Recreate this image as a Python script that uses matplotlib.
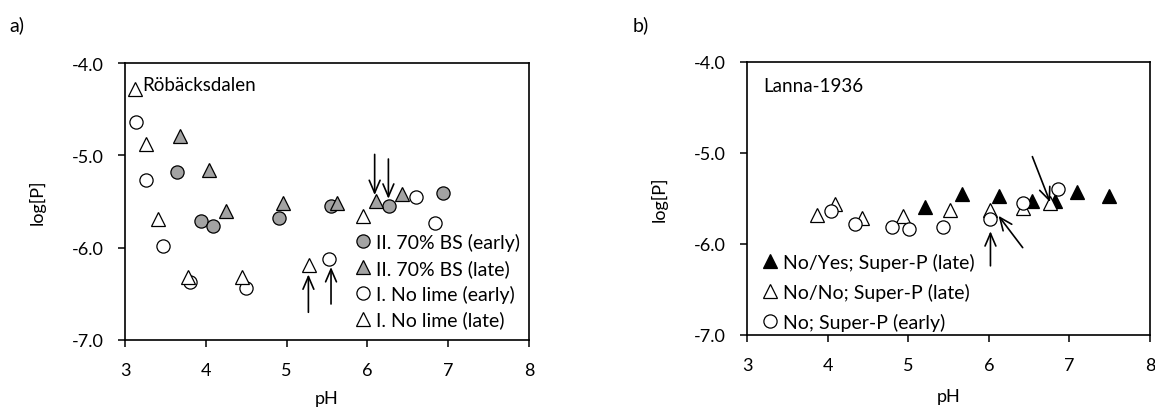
import matplotlib
matplotlib.use("Agg")
import matplotlib.pyplot as plt

plt.rcParams['font.family'] = ['Lato', 'DejaVu Sans']
plt.rcParams['font.size'] = 13

# ---------------- Panel a data (Röbäcksdalen) ----------------
a_bs_early_ph = [3.64, 3.94, 4.09, 4.91, 5.55, 6.27, 6.93]
a_bs_early_lp = [-5.18, -5.71, -5.77, -5.68, -5.55, -5.55, -5.41]
a_bs_late_ph = [3.68, 4.04, 4.25, 4.96, 5.62, 6.11, 6.43]
a_bs_late_lp = [-4.79, -5.16, -5.60, -5.52, -5.52, -5.49, -5.42]
a_nl_early_ph = [3.14, 3.26, 3.47, 3.80, 4.50, 5.52, 6.60, 6.84]
a_nl_early_lp = [-4.64, -5.27, -5.98, -6.37, -6.44, -6.12, -5.45, -5.73]
a_nl_late_ph = [3.12, 3.26, 3.41, 3.78, 4.45, 5.28, 5.94]
a_nl_late_lp = [-4.28, -4.88, -5.69, -6.32, -6.32, -6.19, -5.66]
# arrows: (tail x, tail y, tip x, tip y)
a_arrows = [(6.09, -4.99, 6.09, -5.43), (6.26, -5.04, 6.26, -5.47),
            (5.27, -6.70, 5.27, -6.29), (5.55, -6.61, 5.55, -6.21)]

# ---------------- Panel b data (Lanna-1936) ----------------
b_ny_late_ph = [5.21, 5.67, 6.13, 6.53, 6.82, 7.10, 7.49]
b_ny_late_lp = [-5.59, -5.45, -5.47, -5.53, -5.53, -5.43, -5.47]
b_nn_late_ph = [3.87, 4.09, 4.43, 4.93, 5.52, 6.02, 6.43, 6.76]
b_nn_late_lp = [-5.68, -5.56, -5.71, -5.69, -5.63, -5.63, -5.61, -5.55]
b_n_early_ph = [4.04, 4.34, 4.80, 5.01, 5.43, 6.01, 6.43, 6.86]
b_n_early_lp = [-5.64, -5.78, -5.81, -5.84, -5.81, -5.73, -5.55, -5.40]
b_arrows = [(6.02, -6.24, 6.02, -5.86), (6.42, -6.04, 6.12, -5.69),
            (6.54, -5.04, 6.76, -5.54)]

xticks = [3, 4, 5, 6, 7, 8]
yticks = [-7.0, -6.0, -5.0, -4.0]
ytick_labels = ['-7.0', '-6.0', '-5.0', '-4.0']

GRAY = '#a3a3a3'
MS = 9.5
MEW = 0.9
LEG_FS = 14

fig = plt.figure(figsize=(11.55, 4.10), dpi=100)
ax_a = fig.add_axes([0.1082, 0.1683, 0.3498, 0.6756])
ax_b = fig.add_axes([0.6468, 0.1805, 0.3489, 0.6659])


def style(ax, xpad):
    ax.set_xlim(3, 8)
    ax.set_ylim(-7.0, -4.0)
    ax.set_xticks(xticks)
    ax.set_yticks(yticks)
    ax.set_yticklabels(ytick_labels)
    ax.tick_params(direction='out', length=5, width=1.1, labelsize=13)
    ax.tick_params(axis='x', pad=11)
    ax.tick_params(axis='y', pad=10)
    for s in ax.spines.values():
        s.set_linewidth(1.2)
        s.set_color('black')
    ax.set_xlabel('pH', fontsize=13, labelpad=xpad)
    ax.set_ylabel('log[P]', fontsize=13, labelpad=19)


def arrows(ax, lst):
    for tx, ty, hx, hy in lst:
        ax.annotate('', xy=(hx, hy), xytext=(tx, ty),
                    arrowprops=dict(arrowstyle='->,head_length=0.7,head_width=0.3',
                                    lw=1.2, color='black', shrinkA=0, shrinkB=0))


# Panel a
ax_a.plot(a_bs_early_ph, a_bs_early_lp, 'o', ms=MS, mfc=GRAY, mec='black', mew=MEW,
          label='II. 70% BS (early)')
ax_a.plot(a_bs_late_ph, a_bs_late_lp, '^', ms=MS, mfc=GRAY, mec='black', mew=MEW,
          label='II. 70% BS (late)')
ax_a.plot(a_nl_early_ph, a_nl_early_lp, 'o', ms=MS, mfc='white', mec='black', mew=MEW,
          label='I. No lime (early)')
ax_a.plot(a_nl_late_ph, a_nl_late_lp, '^', ms=MS, mfc='white', mec='black', mew=MEW,
          label='I. No lime (late)')
arrows(ax_a, a_arrows)
style(ax_a, 8.5)
ax_a.text(3.22, -4.23, 'Röbäcksdalen', fontsize=13.5, va='center', ha='left')
ax_a.legend(loc='upper left', bbox_to_anchor=(0.569, 0.386), frameon=False,
            handlelength=0.8, handletextpad=0.3, labelspacing=0.4, borderpad=0,
            borderaxespad=0, fontsize=LEG_FS)

# Panel b
ax_b.plot(b_ny_late_ph, b_ny_late_lp, '^', ms=MS, mfc='black', mec='black', mew=MEW,
          label='No/Yes; Super-P (late)')
ax_b.plot(b_nn_late_ph, b_nn_late_lp, '^', ms=MS, mfc='white', mec='black', mew=MEW,
          label='No/No; Super-P (late)')
ax_b.plot(b_n_early_ph, b_n_early_lp, 'o', ms=MS, mfc='white', mec='black', mew=MEW,
          label='No; Super-P (early)')
arrows(ax_b, b_arrows)
style(ax_b, 11)
ax_b.text(3.2, -4.26, 'Lanna-1936', fontsize=13.5, va='center', ha='left')
ax_b.legend(loc='upper left', bbox_to_anchor=(0.037, 0.30), frameon=False,
            handlelength=0.8, handletextpad=0.3, labelspacing=0.6, borderpad=0,
            borderaxespad=0, fontsize=LEG_FS)

fig.text(17 / 1155, 1 - 25 / 410, 'a)', fontsize=14, ha='center', va='center')
fig.text(641 / 1155, 1 - 25 / 410, 'b)', fontsize=14, ha='center', va='center')

fig.savefig('out.png', dpi=100)
